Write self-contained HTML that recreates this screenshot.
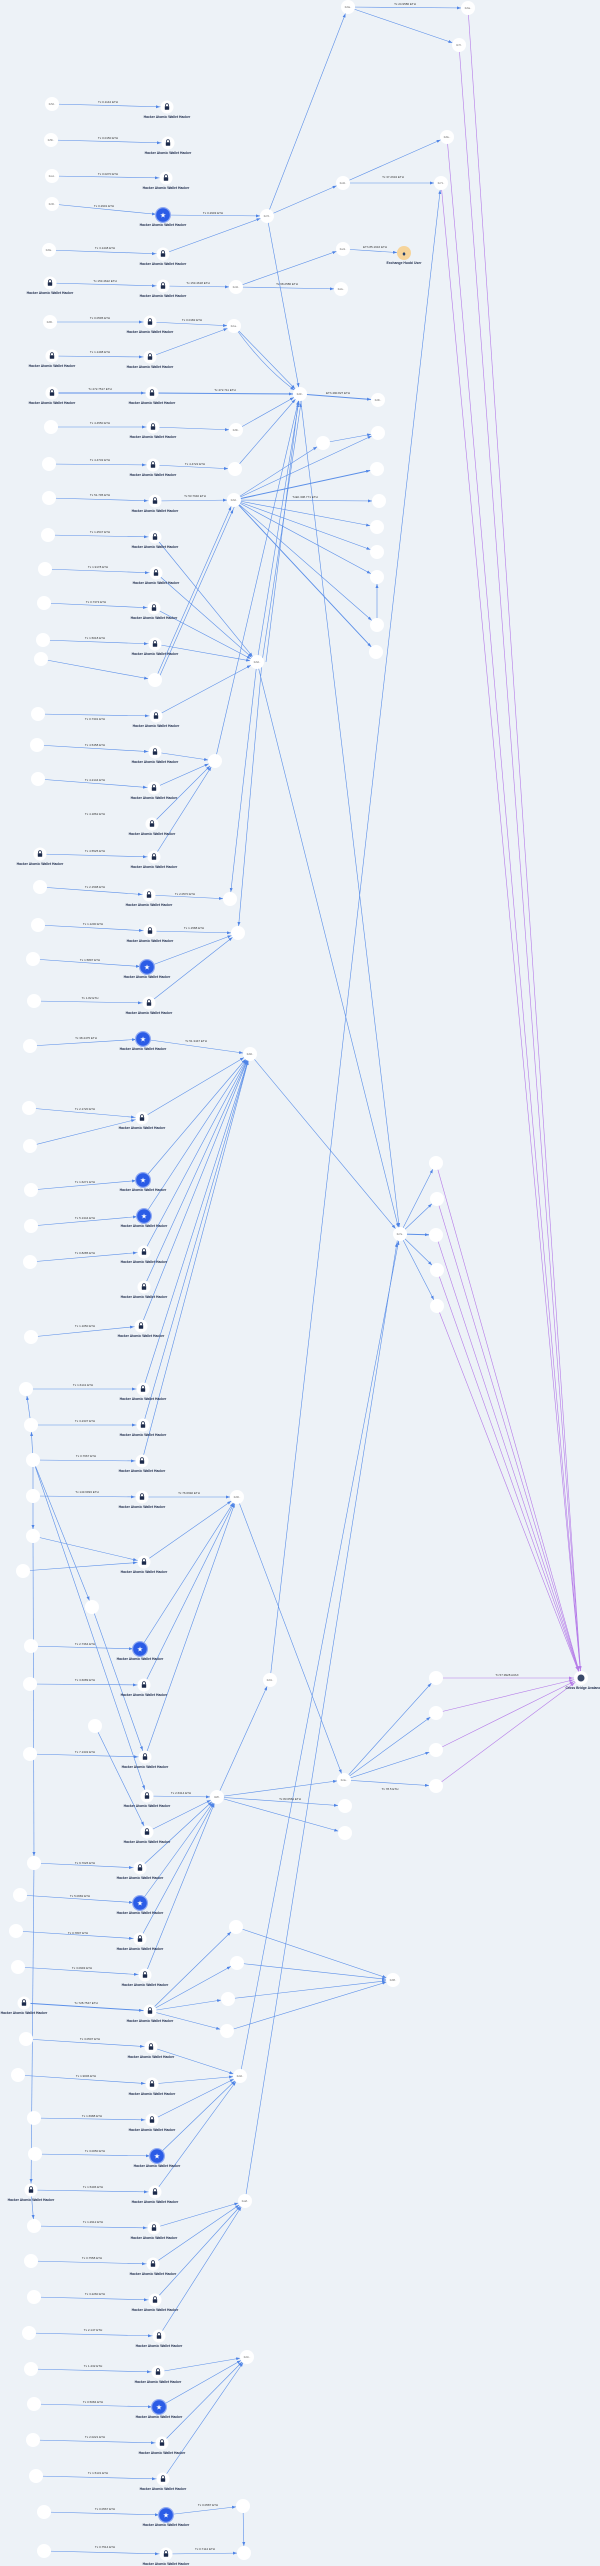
<!DOCTYPE html>
<html><head><meta charset="utf-8"><style>
html,body{margin:0;padding:0;background:#edf2f7;}
svg{display:block;font-family:"Liberation Sans",sans-serif;}
.e line,.e path{stroke:#5b8fe8;stroke-width:0.6;fill:none;}
.p line{stroke:#b57be8;stroke-width:0.6;}
.a{font-size:2.4px;fill:#666;text-anchor:middle;}
.h{font-size:3.4px;font-weight:bold;fill:#1c2a4a;text-anchor:middle;}
.t{font-size:3px;fill:#333;text-anchor:middle;}
</style></head><body>
<svg width="600" height="2566" viewBox="0 0 600 2566" xmlns="http://www.w3.org/2000/svg">
<defs>
<marker id="m" markerUnits="userSpaceOnUse" markerWidth="12" markerHeight="4" refX="11" refY="1.5" orient="auto"><path d="M0,0L4,1.5L0,3z" fill="#4f84e6"/></marker>
<marker id="mp" markerUnits="userSpaceOnUse" markerWidth="14" markerHeight="4" refX="12" refY="1.5" orient="auto"><path d="M0,0L4,1.5L0,3z" fill="#b57be8"/></marker>
<g id="pn"><circle r="7" fill="#fff"/></g>
<g id="lk"><circle r="6.5" fill="#fff"/><rect x="-2.2" y="-0.8" width="4.4" height="3.6" rx="0.4" fill="#1c2a4a"/><path d="M-1.4,-0.8V-2a1.4,1.4 0 0 1 2.8,0V-0.8" stroke="#1c2a4a" stroke-width="0.8" fill="none"/></g>
<g id="st"><circle r="8" fill="#8fa9f2"/><circle r="6.8" fill="#2b5ce6"/><text y="2.4" font-size="7" fill="#fff" text-anchor="middle">★</text></g>
</defs>

<g class="p" marker-end="url(#mp)">
<line x1="468" y1="8" x2="581" y2="1678"/><line x1="459" y1="45" x2="581" y2="1678"/>
<line x1="447" y1="137" x2="581" y2="1678"/><line x1="441" y1="183" x2="581" y2="1678"/>
<line x1="436" y1="1163" x2="581" y2="1678"/><line x1="437" y1="1199" x2="581" y2="1678"/>
<line x1="436" y1="1235" x2="581" y2="1678"/><line x1="437" y1="1270" x2="581" y2="1678"/>
<line x1="437" y1="1306" x2="581" y2="1678"/><line x1="436" y1="1678" x2="581" y2="1678"/>
<line x1="436" y1="1713" x2="581" y2="1678"/><line x1="436" y1="1750" x2="581" y2="1678"/>
<line x1="436" y1="1786" x2="581" y2="1678"/>
</g>

<g class="e" marker-end="url(#m)">
<line x1="52" y1="104" x2="167" y2="107"/><line x1="51" y1="140" x2="168" y2="143"/>
<line x1="52" y1="176" x2="166" y2="178"/><line x1="52" y1="204" x2="163" y2="215"/>
<line x1="163" y1="215" x2="267" y2="216"/><line x1="49" y1="250" x2="163" y2="254"/>
<line x1="163" y1="254" x2="267" y2="216"/><line x1="50" y1="283" x2="163" y2="286"/>
<line x1="163" y1="286" x2="236" y2="287"/><line x1="236" y1="287" x2="343" y2="249"/>
<line x1="236" y1="287" x2="341" y2="289"/><line x1="343" y1="249" x2="404" y2="253"/>
<line x1="267" y1="216" x2="343" y2="183"/><line x1="343" y1="183" x2="447" y2="137"/>
<line x1="343" y1="183" x2="441" y2="183"/><line x1="267" y1="216" x2="348" y2="7"/>
<line x1="348" y1="7" x2="468" y2="8"/><line x1="348" y1="7" x2="459" y2="45"/>
<line x1="50" y1="322" x2="150" y2="322"/><line x1="150" y1="322" x2="234" y2="326"/>
<line x1="52" y1="356" x2="150" y2="357"/><line x1="150" y1="357" x2="234" y2="326"/>
<line x1="234" y1="326" x2="300" y2="394"/><path d="M234,326Q265,370 300,394"/>
<line x1="52" y1="393" x2="152" y2="393" style="stroke-width:1"/><line x1="152" y1="393" x2="300" y2="394" style="stroke-width:1"/>
<line x1="300" y1="394" x2="378" y2="400" style="stroke-width:1"/><line x1="267" y1="216" x2="300" y2="394"/>
<line x1="51" y1="427" x2="153" y2="427"/><line x1="153" y1="427" x2="236" y2="430"/>
<line x1="236" y1="430" x2="300" y2="394"/><line x1="49" y1="464" x2="153" y2="465"/>
<line x1="153" y1="465" x2="235" y2="469"/><line x1="235" y1="469" x2="300" y2="394"/>
<line x1="49" y1="498" x2="155" y2="501"/><line x1="155" y1="501" x2="234" y2="500"/>
<line x1="234" y1="500" x2="323" y2="443"/><line x1="234" y1="500" x2="378" y2="433"/>
<line x1="234" y1="500" x2="377" y2="469" style="stroke-width:1"/><line x1="234" y1="500" x2="379" y2="501"/>
<line x1="234" y1="500" x2="377" y2="527"/><line x1="234" y1="500" x2="377" y2="552"/>
<line x1="234" y1="500" x2="377" y2="577"/><line x1="234" y1="500" x2="377" y2="625"/>
<line x1="234" y1="500" x2="376" y2="652" style="stroke-width:0.9"/><line x1="323" y1="443" x2="378" y2="433"/>
<line x1="377" y1="625" x2="377" y2="577"/>
<line x1="48" y1="535" x2="155" y2="537"/><line x1="45" y1="569" x2="156" y2="573"/>
<line x1="44" y1="603" x2="154" y2="608"/><line x1="43" y1="640" x2="155" y2="644"/>
<line x1="41" y1="659" x2="155" y2="680"/><line x1="155" y1="680" x2="234" y2="500"/>
<line x1="158" y1="680" x2="236" y2="503"/>
<line x1="155" y1="537" x2="257" y2="662"/><line x1="156" y1="573" x2="257" y2="662"/>
<line x1="154" y1="608" x2="257" y2="662"/><line x1="155" y1="644" x2="257" y2="662"/>
<line x1="257" y1="662" x2="300" y2="394"/><line x1="262" y1="662" x2="302" y2="396"/>
<line x1="266" y1="662" x2="299" y2="396"/>
<line x1="38" y1="714" x2="156" y2="716"/><line x1="156" y1="716" x2="257" y2="662"/>
<line x1="37" y1="745" x2="155" y2="752"/><line x1="155" y1="752" x2="215" y2="761"/>
<line x1="38" y1="779" x2="154" y2="788"/><line x1="154" y1="788" x2="215" y2="761"/>
<line x1="152" y1="824" x2="215" y2="761"/><line x1="154" y1="857" x2="215" y2="761"/>
<line x1="40" y1="854" x2="154" y2="857"/><line x1="215" y1="761" x2="300" y2="394"/>
<line x1="257" y1="662" x2="400" y2="1234"/><line x1="300" y1="394" x2="400" y2="1234"/>
<line x1="40" y1="887" x2="149" y2="895"/><line x1="149" y1="895" x2="230" y2="899"/>
<line x1="257" y1="662" x2="230" y2="899"/><line x1="262" y1="662" x2="238" y2="933"/>
<line x1="38" y1="925" x2="150" y2="931"/><line x1="150" y1="931" x2="238" y2="933"/>
<line x1="33" y1="959" x2="147" y2="967"/><line x1="147" y1="967" x2="238" y2="933"/>
<line x1="34" y1="1001" x2="149" y2="1003"/><line x1="149" y1="1003" x2="238" y2="933"/>
<line x1="30" y1="1046" x2="143" y2="1039"/><line x1="143" y1="1039" x2="250" y2="1054"/>
<line x1="250" y1="1054" x2="400" y2="1234"/>
<line x1="29" y1="1108" x2="142" y2="1118"/><line x1="30" y1="1146" x2="142" y2="1118"/>
<line x1="142" y1="1118" x2="250" y2="1054"/><line x1="31" y1="1190" x2="143" y2="1180"/>
<line x1="143" y1="1180" x2="250" y2="1054"/><line x1="31" y1="1226" x2="144" y2="1216"/>
<line x1="144" y1="1216" x2="250" y2="1054"/><line x1="30" y1="1262" x2="144" y2="1252"/>
<line x1="144" y1="1252" x2="250" y2="1054"/><line x1="144" y1="1287" x2="250" y2="1054"/>
<line x1="31" y1="1337" x2="141" y2="1326"/><line x1="141" y1="1326" x2="250" y2="1054"/>
<line x1="26" y1="1389" x2="143" y2="1389"/><line x1="143" y1="1389" x2="250" y2="1054"/>
<line x1="31" y1="1425" x2="143" y2="1425"/><line x1="143" y1="1425" x2="250" y2="1054"/>
<line x1="33" y1="1460" x2="142" y2="1461"/><line x1="142" y1="1461" x2="250" y2="1054"/>
<line x1="33" y1="1496" x2="142" y2="1497"/><line x1="142" y1="1497" x2="237" y2="1497"/>
<line x1="33" y1="1536" x2="144" y2="1562"/><line x1="23" y1="1571" x2="144" y2="1562"/>
<line x1="144" y1="1562" x2="237" y2="1497"/><line x1="31" y1="1646" x2="140" y2="1649"/>
<line x1="140" y1="1649" x2="237" y2="1497"/><line x1="30" y1="1684" x2="144" y2="1685"/>
<line x1="144" y1="1685" x2="237" y2="1497"/><line x1="237" y1="1497" x2="344" y2="1780"/>
<line x1="400" y1="1234" x2="436" y2="1163"/><line x1="400" y1="1234" x2="437" y2="1199"/>
<line x1="400" y1="1234" x2="436" y2="1235" style="stroke-width:1"/><line x1="400" y1="1234" x2="437" y2="1270"/>
<line x1="400" y1="1234" x2="437" y2="1306"/>
<line x1="270" y1="1680" x2="441" y2="183"/><line x1="217" y1="1797" x2="270" y2="1680"/>
<line x1="240" y1="2076" x2="400" y2="1234"/><line x1="245" y1="2201" x2="398" y2="1236"/>
<line x1="344" y1="1780" x2="436" y2="1678"/><line x1="344" y1="1780" x2="436" y2="1713"/>
<line x1="344" y1="1780" x2="436" y2="1750"/><line x1="344" y1="1780" x2="436" y2="1786"/>
<line x1="217" y1="1797" x2="344" y2="1780"/><line x1="217" y1="1797" x2="345" y2="1806"/>
<line x1="217" y1="1797" x2="345" y2="1833"/>
<line x1="33" y1="1460" x2="92" y2="1607"/><line x1="33" y1="1460" x2="147" y2="1796"/>
<line x1="92" y1="1607" x2="145" y2="1757"/><line x1="95" y1="1726" x2="147" y2="1832"/>
<line x1="30" y1="1754" x2="145" y2="1757"/><line x1="145" y1="1757" x2="237" y2="1497"/>
<line x1="147" y1="1796" x2="217" y2="1797"/><line x1="147" y1="1832" x2="217" y2="1797"/>
<line x1="34" y1="1863" x2="140" y2="1868"/><line x1="140" y1="1868" x2="217" y2="1797"/>
<line x1="20" y1="1895" x2="140" y2="1903"/><line x1="140" y1="1903" x2="217" y2="1797"/>
<line x1="16" y1="1931" x2="140" y2="1939"/><line x1="140" y1="1939" x2="217" y2="1797"/>
<line x1="18" y1="1967" x2="145" y2="1975"/><line x1="145" y1="1975" x2="217" y2="1797"/>
<line x1="24" y1="2003" x2="150" y2="2011" style="stroke-width:1"/>
<line x1="150" y1="2011" x2="236" y2="1927"/><line x1="150" y1="2011" x2="237" y2="1963"/>
<line x1="150" y1="2011" x2="228" y2="1999"/><line x1="150" y1="2011" x2="227" y2="2031"/>
<line x1="236" y1="1927" x2="393" y2="1980"/><line x1="237" y1="1963" x2="393" y2="1980"/>
<line x1="228" y1="1999" x2="393" y2="1980"/><line x1="227" y1="2031" x2="393" y2="1980"/>
<line x1="26" y1="2039" x2="151" y2="2047"/><line x1="151" y1="2047" x2="240" y2="2076"/>
<line x1="18" y1="2075" x2="152" y2="2084"/><line x1="152" y1="2084" x2="240" y2="2076"/>
<line x1="34" y1="2118" x2="152" y2="2120"/><line x1="152" y1="2120" x2="240" y2="2076"/>
<line x1="157" y1="2156" x2="240" y2="2076"/><line x1="155" y1="2192" x2="240" y2="2076"/>
<line x1="35" y1="2154" x2="157" y2="2156"/><line x1="31" y1="2190" x2="155" y2="2192"/>
<line x1="34" y1="2226" x2="154" y2="2228"/><line x1="154" y1="2228" x2="245" y2="2201"/>
<line x1="31" y1="2261" x2="153" y2="2264"/><line x1="153" y1="2264" x2="245" y2="2201"/>
<line x1="34" y1="2297" x2="155" y2="2300"/><line x1="155" y1="2300" x2="245" y2="2201"/>
<line x1="29" y1="2333" x2="159" y2="2336"/><line x1="159" y1="2336" x2="245" y2="2201"/>
<line x1="31" y1="2369" x2="158" y2="2372"/><line x1="158" y1="2372" x2="247" y2="2357"/>
<line x1="34" y1="2404" x2="159" y2="2407"/><line x1="159" y1="2407" x2="247" y2="2357"/>
<line x1="33" y1="2440" x2="162" y2="2443"/><line x1="162" y1="2443" x2="247" y2="2357"/>
<line x1="36" y1="2476" x2="163" y2="2479"/><line x1="163" y1="2479" x2="247" y2="2357"/>
<line x1="44" y1="2512" x2="166" y2="2515"/><line x1="166" y1="2515" x2="243" y2="2506"/>
<line x1="243" y1="2506" x2="244" y2="2553"/><line x1="44" y1="2551" x2="166" y2="2554"/>
<line x1="166" y1="2554" x2="244" y2="2553"/>
<line x1="33" y1="1460" x2="31" y2="1425"/><line x1="31" y1="1425" x2="26" y2="1389"/>
<line x1="33" y1="1460" x2="33" y2="1536"/><line x1="33" y1="1536" x2="34" y2="1863"/>
<line x1="34" y1="1863" x2="31" y2="2190"/><line x1="31" y1="2190" x2="34" y2="2226"/>
</g>

<g class="t">
<text x="108" y="103">Tx 0.1142 ETH</text><text x="108" y="139">Tx 0.0150 ETH</text>
<text x="108" y="175">Tx 0.0270 ETH</text><text x="104" y="207">Tx 0.2901 ETH</text>
<text x="213" y="214">Tx 0.2903 ETH</text><text x="105" y="249">Tx 3.1448 ETH</text>
<text x="105" y="282">Tx 153.4622 ETH</text><text x="198" y="284">Tx 153.4618 ETH</text>
<text x="287" y="285">Tx 68.2586 ETH</text><text x="375" y="248">ETh 85.1916 ETH</text>
<text x="405" y="5">Tx 24.9586 ETH</text><text x="393" y="178">Tx 37.2634 ETH</text>
<text x="100" y="319">Tx 0.0595 ETH</text><text x="192" y="321">Tx 0.0182 ETH</text>
<text x="100" y="353">Tx 1.1498 ETH</text><text x="100" y="390">Tx 472.7517 ETH</text>
<text x="225" y="391">Tx 472.711 ETH</text><text x="338" y="394">ETh 490.827 ETH</text>
<text x="100" y="424">Tx 4.4550 ETH</text><text x="100" y="461">Tx 4.4732 ETH</text>
<text x="195" y="465">Tx 4.4722 ETH</text><text x="100" y="496">Tx 51.795 ETH</text>
<text x="195" y="497">Tx 53.7640 ETH</text><text x="305" y="498">TxEb 308.771 ETH</text>
<text x="100" y="533">Tx 1.2547 ETH</text><text x="98" y="568">Tx 1.9178 ETH</text>
<text x="96" y="603">Tx 0.7373 ETH</text><text x="95" y="639">Tx 1.5018 ETH</text>
<text x="95" y="720">Tx 0.7301 ETH</text><text x="95" y="746">Tx 4.5458 ETH</text>
<text x="95" y="781">Tx 4.2144 ETH</text><text x="95" y="815">Tx 4.1862 ETH</text>
<text x="95" y="852">Tx 4.5525 ETH</text><text x="95" y="888">Tx 2.1598 ETH</text>
<text x="185" y="895">Tx 2.0570 ETH</text><text x="93" y="925">Tx 1.1200 ETH</text>
<text x="194" y="929">Tx 1.1588 ETH</text><text x="90" y="961">Tx 1.5897 ETH</text>
<text x="90" y="999">Tx 1.82 ETH</text><text x="86" y="1039">Tx 38.4475 ETH</text>
<text x="196" y="1042">Tx 51.3447 ETH</text><text x="85" y="1110">Tx 2.1720 ETH</text>
<text x="85" y="1183">Tx 1.6271 ETH</text><text x="85" y="1219">Tx 5.1344 ETH</text>
<text x="85" y="1254">Tx 0.8285 ETH</text><text x="85" y="1327">Tx 1.1050 ETH</text>
<text x="83" y="1386">Tx 1.6141 ETH</text><text x="85" y="1422">Tx 3.2337 ETH</text>
<text x="86" y="1457">Tx 0.7667 ETH</text><text x="87" y="1493">Tx 143.6993 ETH</text>
<text x="189" y="1494">Tx 76.6992 ETH</text><text x="85" y="1645">Tx 2.7364 ETH</text>
<text x="85" y="1681">Tx 3.6089 ETH</text><text x="507" y="1676">Tx 57.9928 AVAX</text>
<text x="85" y="1753">Tx 7.1332 ETH</text><text x="181" y="1794">Tx 2.6314 ETH</text>
<text x="290" y="1800">Tx 83.6564 ETH</text><text x="390" y="1790">Tx 78.5 ETH</text>
<text x="85" y="1864">Tx 9.7026 ETH</text><text x="80" y="1897">Tx 5.0682 ETH</text>
<text x="78" y="1934">Tx 0.7807 ETH</text><text x="82" y="1969">Tx 3.0993 ETH</text>
<text x="86" y="2004">Tx 728.7547 ETH</text><text x="90" y="2040">Tx 3.0507 ETH</text>
<text x="86" y="2077">Tx 1.9006 ETH</text><text x="92" y="2117">Tx 1.6988 ETH</text>
<text x="95" y="2152">Tx 3.0050 ETH</text><text x="93" y="2188">Tx 1.5406 ETH</text>
<text x="93" y="2223">Tx 1.2912 ETH</text><text x="92" y="2259">Tx 0.7558 ETH</text>
<text x="95" y="2295">Tx 3.2260 ETH</text><text x="93" y="2331">Tx 2.147 ETH</text>
<text x="93" y="2367">Tx 1.432 ETH</text><text x="93" y="2403">Tx 0.5084 ETH</text>
<text x="95" y="2438">Tx 2.0221 ETH</text><text x="98" y="2474">Tx 1.5131 ETH</text>
<text x="105" y="2510">Tx 0.0567 ETH</text><text x="105" y="2548">Tx 0.7514 ETH</text>
<text x="205" y="2550">Tx 0.7112 ETH</text><text x="208" y="2506">Tx 0.0587 ETH</text>
</g>

<g>
<use href="#pn" x="348" y="7"/><use href="#pn" x="468" y="8"/><use href="#pn" x="459" y="45"/>
<use href="#pn" x="52" y="104"/><use href="#pn" x="51" y="140"/><use href="#pn" x="52" y="176"/>
<use href="#pn" x="52" y="204"/><use href="#pn" x="49" y="250"/><use href="#pn" x="267" y="216"/>
<use href="#pn" x="343" y="183"/><use href="#pn" x="447" y="137"/><use href="#pn" x="441" y="183"/>
<use href="#pn" x="343" y="249"/><use href="#pn" x="236" y="287"/><use href="#pn" x="341" y="289"/>
<use href="#pn" x="50" y="322"/><use href="#pn" x="234" y="326"/><use href="#pn" x="300" y="394"/>
<use href="#pn" x="378" y="400"/><use href="#pn" x="51" y="427"/><use href="#pn" x="236" y="430"/>
<use href="#pn" x="49" y="464"/><use href="#pn" x="235" y="469"/><use href="#pn" x="49" y="498"/>
<use href="#pn" x="234" y="500"/><use href="#pn" x="48" y="535"/><use href="#pn" x="45" y="569"/>
<use href="#pn" x="44" y="603"/><use href="#pn" x="43" y="640"/><use href="#pn" x="41" y="659"/>
<use href="#pn" x="155" y="680"/><use href="#pn" x="38" y="714"/><use href="#pn" x="37" y="745"/>
<use href="#pn" x="38" y="779"/><use href="#pn" x="215" y="761"/><use href="#pn" x="323" y="443"/>
<use href="#pn" x="378" y="433"/><use href="#pn" x="377" y="469"/><use href="#pn" x="379" y="501"/>
<use href="#pn" x="377" y="527"/><use href="#pn" x="377" y="552"/><use href="#pn" x="377" y="577"/>
<use href="#pn" x="377" y="625"/><use href="#pn" x="376" y="652"/><use href="#pn" x="257" y="662"/>
<use href="#pn" x="40" y="887"/><use href="#pn" x="230" y="899"/><use href="#pn" x="38" y="925"/>
<use href="#pn" x="238" y="933"/><use href="#pn" x="33" y="959"/><use href="#pn" x="34" y="1001"/>
<use href="#pn" x="30" y="1046"/><use href="#pn" x="250" y="1054"/><use href="#pn" x="29" y="1108"/>
<use href="#pn" x="30" y="1146"/><use href="#pn" x="31" y="1190"/><use href="#pn" x="31" y="1226"/>
<use href="#pn" x="30" y="1262"/><use href="#pn" x="400" y="1234"/><use href="#pn" x="436" y="1163"/>
<use href="#pn" x="437" y="1199"/><use href="#pn" x="436" y="1235"/><use href="#pn" x="437" y="1270"/>
<use href="#pn" x="437" y="1306"/><use href="#pn" x="31" y="1337"/><use href="#pn" x="26" y="1389"/>
<use href="#pn" x="31" y="1425"/><use href="#pn" x="33" y="1460"/><use href="#pn" x="33" y="1496"/>
<use href="#pn" x="237" y="1497"/><use href="#pn" x="33" y="1536"/><use href="#pn" x="23" y="1571"/>
<use href="#pn" x="92" y="1607"/><use href="#pn" x="31" y="1646"/><use href="#pn" x="30" y="1684"/>
<use href="#pn" x="270" y="1680"/><use href="#pn" x="436" y="1678"/><use href="#pn" x="436" y="1713"/>
<use href="#pn" x="95" y="1726"/><use href="#pn" x="30" y="1754"/><use href="#pn" x="217" y="1797"/>
<use href="#pn" x="34" y="1863"/><use href="#pn" x="20" y="1895"/><use href="#pn" x="16" y="1931"/>
<use href="#pn" x="18" y="1967"/><use href="#pn" x="26" y="2039"/><use href="#pn" x="18" y="2075"/>
<use href="#pn" x="34" y="2118"/><use href="#pn" x="240" y="2076"/><use href="#pn" x="344" y="1780"/>
<use href="#pn" x="345" y="1806"/><use href="#pn" x="345" y="1833"/><use href="#pn" x="436" y="1750"/>
<use href="#pn" x="436" y="1786"/><use href="#pn" x="236" y="1927"/><use href="#pn" x="237" y="1963"/>
<use href="#pn" x="228" y="1999"/><use href="#pn" x="227" y="2031"/><use href="#pn" x="393" y="1980"/>
<use href="#pn" x="35" y="2154"/><use href="#pn" x="34" y="2226"/><use href="#pn" x="245" y="2201"/>
<use href="#pn" x="31" y="2261"/><use href="#pn" x="34" y="2297"/><use href="#pn" x="29" y="2333"/>
<use href="#pn" x="31" y="2369"/><use href="#pn" x="247" y="2357"/><use href="#pn" x="34" y="2404"/>
<use href="#pn" x="33" y="2440"/><use href="#pn" x="36" y="2476"/><use href="#pn" x="44" y="2512"/>
<use href="#pn" x="243" y="2506"/><use href="#pn" x="44" y="2551"/><use href="#pn" x="244" y="2553"/>
</g>
<g class="a">
<text x="348" y="8">0x9a..</text><text x="468" y="9">0x6a..</text><text x="459" y="46">0x7f..</text>
<text x="52" y="105">0x5d..</text><text x="51" y="141">0x5b..</text><text x="52" y="177">0xa1..</text>
<text x="52" y="205">0x30..</text><text x="49" y="251">0x8a..</text><text x="267" y="217">0x7d..</text>
<text x="343" y="184">0xd2..</text><text x="447" y="138">0x8e..</text><text x="441" y="184">0x71..</text>
<text x="343" y="250">0xe9..</text><text x="236" y="288">0x42..</text><text x="341" y="290">0x2e..</text>
<text x="50" y="323">0x80..</text><text x="234" y="327">0x1a..</text><text x="300" y="395">0x8c..</text>
<text x="378" y="401">0x0b..</text><text x="236" y="431">0x6b..</text><text x="234" y="501">0x6d..</text>
<text x="257" y="663">0x6d..</text><text x="250" y="1055">0x8d..</text><text x="400" y="1235">0x7a..</text>
<text x="237" y="1498">0x90..</text><text x="217" y="1798">0x8f..</text><text x="240" y="2077">0x0d..</text>
<text x="245" y="2202">0xa8..</text><text x="247" y="2358">0x1b..</text><text x="393" y="1981">0x88..</text>
<text x="344" y="1781">0x4e..</text><text x="270" y="1681">0x91..</text>
</g>

<g>
<use href="#lk" x="167" y="107"/><use href="#lk" x="168" y="143"/><use href="#lk" x="166" y="178"/>
<use href="#lk" x="163" y="254"/><use href="#lk" x="50" y="283"/><use href="#lk" x="163" y="286"/>
<use href="#lk" x="150" y="322"/><use href="#lk" x="52" y="356"/><use href="#lk" x="150" y="357"/>
<use href="#lk" x="52" y="393"/><use href="#lk" x="152" y="393"/><use href="#lk" x="153" y="427"/>
<use href="#lk" x="153" y="465"/><use href="#lk" x="155" y="501"/><use href="#lk" x="155" y="537"/>
<use href="#lk" x="156" y="573"/><use href="#lk" x="154" y="608"/><use href="#lk" x="155" y="644"/>
<use href="#lk" x="156" y="716"/><use href="#lk" x="155" y="752"/><use href="#lk" x="154" y="788"/>
<use href="#lk" x="152" y="824"/><use href="#lk" x="40" y="854"/><use href="#lk" x="154" y="857"/>
<use href="#lk" x="149" y="895"/><use href="#lk" x="150" y="931"/><use href="#lk" x="149" y="1003"/>
<use href="#lk" x="142" y="1118"/><use href="#lk" x="144" y="1252"/><use href="#lk" x="144" y="1287"/>
<use href="#lk" x="141" y="1326"/><use href="#lk" x="143" y="1389"/><use href="#lk" x="143" y="1425"/>
<use href="#lk" x="142" y="1461"/><use href="#lk" x="142" y="1497"/><use href="#lk" x="144" y="1562"/>
<use href="#lk" x="144" y="1685"/><use href="#lk" x="145" y="1757"/><use href="#lk" x="147" y="1796"/>
<use href="#lk" x="147" y="1832"/><use href="#lk" x="140" y="1868"/><use href="#lk" x="140" y="1939"/>
<use href="#lk" x="145" y="1975"/><use href="#lk" x="24" y="2003"/><use href="#lk" x="150" y="2011"/>
<use href="#lk" x="151" y="2047"/><use href="#lk" x="152" y="2084"/><use href="#lk" x="152" y="2120"/>
<use href="#lk" x="31" y="2190"/><use href="#lk" x="155" y="2192"/><use href="#lk" x="154" y="2228"/>
<use href="#lk" x="153" y="2264"/><use href="#lk" x="155" y="2300"/><use href="#lk" x="159" y="2336"/>
<use href="#lk" x="158" y="2372"/><use href="#lk" x="162" y="2443"/><use href="#lk" x="163" y="2479"/>
<use href="#lk" x="166" y="2554"/>
<use href="#st" x="163" y="215"/><use href="#st" x="147" y="967"/><use href="#st" x="143" y="1039"/>
<use href="#st" x="143" y="1180"/><use href="#st" x="144" y="1216"/><use href="#st" x="140" y="1649"/>
<use href="#st" x="140" y="1903"/><use href="#st" x="157" y="2156"/><use href="#st" x="159" y="2407"/>
<use href="#st" x="166" y="2515"/>
<circle cx="404" cy="253" r="7" fill="#f6d49a"/><text x="404" y="256" font-size="7" text-anchor="middle" fill="#1c3a6a">♦</text>
<circle cx="581" cy="1678" r="7" fill="#fff"/><circle cx="581" cy="1678" r="3.5" fill="#3a4a6a"/>
</g>

<g class="h">
<text x="167" y="118">Hacker Atomic Wallet Hacker</text><text x="168" y="154">Hacker Atomic Wallet Hacker</text>
<text x="166" y="189">Hacker Atomic Wallet Hacker</text><text x="163" y="226">Hacker Atomic Wallet Hacker</text>
<text x="163" y="265">Hacker Atomic Wallet Hacker</text><text x="50" y="294">Hacker Atomic Wallet Hacker</text>
<text x="163" y="297">Hacker Atomic Wallet Hacker</text><text x="150" y="333">Hacker Atomic Wallet Hacker</text>
<text x="52" y="367">Hacker Atomic Wallet Hacker</text><text x="150" y="368">Hacker Atomic Wallet Hacker</text>
<text x="52" y="404">Hacker Atomic Wallet Hacker</text><text x="152" y="404">Hacker Atomic Wallet Hacker</text>
<text x="153" y="438">Hacker Atomic Wallet Hacker</text><text x="153" y="476">Hacker Atomic Wallet Hacker</text>
<text x="155" y="512">Hacker Atomic Wallet Hacker</text><text x="155" y="548">Hacker Atomic Wallet Hacker</text>
<text x="156" y="584">Hacker Atomic Wallet Hacker</text><text x="154" y="619">Hacker Atomic Wallet Hacker</text>
<text x="155" y="655">Hacker Atomic Wallet Hacker</text><text x="156" y="727">Hacker Atomic Wallet Hacker</text>
<text x="155" y="763">Hacker Atomic Wallet Hacker</text><text x="154" y="799">Hacker Atomic Wallet Hacker</text>
<text x="152" y="835">Hacker Atomic Wallet Hacker</text><text x="40" y="865">Hacker Atomic Wallet Hacker</text>
<text x="154" y="868">Hacker Atomic Wallet Hacker</text><text x="149" y="906">Hacker Atomic Wallet Hacker</text>
<text x="150" y="942">Hacker Atomic Wallet Hacker</text><text x="147" y="978">Hacker Atomic Wallet Hacker</text>
<text x="149" y="1014">Hacker Atomic Wallet Hacker</text><text x="143" y="1050">Hacker Atomic Wallet Hacker</text>
<text x="142" y="1129">Hacker Atomic Wallet Hacker</text><text x="143" y="1191">Hacker Atomic Wallet Hacker</text>
<text x="144" y="1227">Hacker Atomic Wallet Hacker</text><text x="144" y="1263">Hacker Atomic Wallet Hacker</text>
<text x="144" y="1298">Hacker Atomic Wallet Hacker</text><text x="141" y="1337">Hacker Atomic Wallet Hacker</text>
<text x="143" y="1400">Hacker Atomic Wallet Hacker</text><text x="143" y="1436">Hacker Atomic Wallet Hacker</text>
<text x="142" y="1472">Hacker Atomic Wallet Hacker</text><text x="142" y="1508">Hacker Atomic Wallet Hacker</text>
<text x="144" y="1573">Hacker Atomic Wallet Hacker</text><text x="140" y="1660">Hacker Atomic Wallet Hacker</text>
<text x="144" y="1696">Hacker Atomic Wallet Hacker</text><text x="145" y="1768">Hacker Atomic Wallet Hacker</text>
<text x="147" y="1807">Hacker Atomic Wallet Hacker</text><text x="147" y="1843">Hacker Atomic Wallet Hacker</text>
<text x="140" y="1879">Hacker Atomic Wallet Hacker</text><text x="140" y="1914">Hacker Atomic Wallet Hacker</text>
<text x="140" y="1950">Hacker Atomic Wallet Hacker</text><text x="145" y="1986">Hacker Atomic Wallet Hacker</text>
<text x="24" y="2014">Hacker Atomic Wallet Hacker</text><text x="150" y="2022">Hacker Atomic Wallet Hacker</text>
<text x="151" y="2058">Hacker Atomic Wallet Hacker</text><text x="152" y="2095">Hacker Atomic Wallet Hacker</text>
<text x="152" y="2131">Hacker Atomic Wallet Hacker</text><text x="157" y="2167">Hacker Atomic Wallet Hacker</text>
<text x="31" y="2201">Hacker Atomic Wallet Hacker</text><text x="155" y="2203">Hacker Atomic Wallet Hacker</text>
<text x="154" y="2239">Hacker Atomic Wallet Hacker</text><text x="153" y="2275">Hacker Atomic Wallet Hacker</text>
<text x="155" y="2311">Hacker Atomic Wallet Hacker</text><text x="159" y="2347">Hacker Atomic Wallet Hacker</text>
<text x="158" y="2383">Hacker Atomic Wallet Hacker</text><text x="159" y="2418">Hacker Atomic Wallet Hacker</text>
<text x="162" y="2454">Hacker Atomic Wallet Hacker</text><text x="163" y="2490">Hacker Atomic Wallet Hacker</text>
<text x="166" y="2526">Hacker Atomic Wallet Hacker</text><text x="166" y="2565">Hacker Atomic Wallet Hacker</text>
<text x="404" y="264">Exchange Huobi User</text><text x="585" y="1689">Cross Bridge Avalanche</text>
</g>
</svg>
</body></html>
